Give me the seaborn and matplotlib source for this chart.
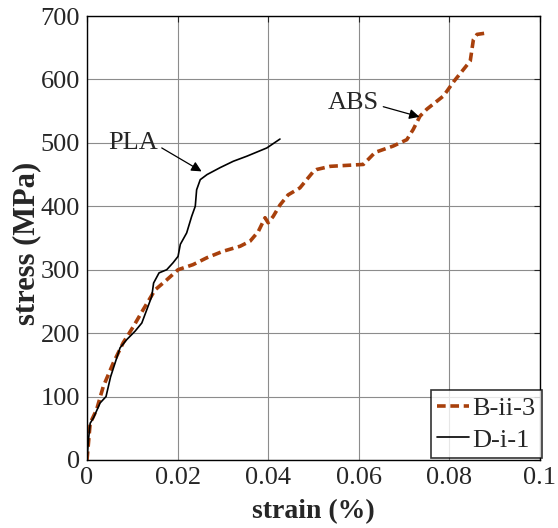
import matplotlib
matplotlib.use("Agg")
import matplotlib.pyplot as plt
import seaborn as sns
import pandas as pd
from matplotlib.lines import Line2D

# ABS specimen B-ii-3
abs_strain = [0.0, 0.0007, 0.0021, 0.0036, 0.0058, 0.008, 0.0102, 0.0124, 0.015, 0.0176,
              0.0201, 0.0234, 0.0265, 0.030, 0.0338, 0.036, 0.0378, 0.0393, 0.040, 0.0411,
              0.0426, 0.0444, 0.047, 0.050, 0.0507, 0.0537, 0.061, 0.0636, 0.0676, 0.0706,
              0.072, 0.0735, 0.075, 0.0787, 0.081, 0.0846, 0.0853, 0.0861, 0.088]
abs_stress = [0, 58, 79, 116, 153, 185, 210, 237, 268, 284,
              300, 308, 319, 329, 337, 345, 360, 382, 374, 384,
              402, 418, 429, 455, 458, 463, 466, 485, 495, 505,
              521, 542, 553, 574, 597, 629, 663, 671, 673]

# PLA specimen D-i-1
pla_strain = [0.0, 0.0003, 0.0007, 0.0014, 0.0029, 0.0042, 0.0052, 0.0062, 0.0073, 0.0088,
              0.0106, 0.0121, 0.0132, 0.0143, 0.0147, 0.0159, 0.0176, 0.019, 0.0201, 0.0206,
              0.022, 0.0231, 0.0239, 0.0242, 0.025, 0.0265, 0.0294, 0.0323, 0.0353, 0.0397,
              0.0426]
pla_stress = [0, 30, 58, 66, 90, 100, 131, 153, 177, 190,
              203, 216, 237, 258, 279, 295, 300, 311, 321, 340,
              358, 384, 400, 426, 442, 450, 461, 471, 479, 492,
              506]

series_names = ["B-ii-3", "D-i-1"]
x_ticks = [0, 0.02, 0.04, 0.06, 0.08, 0.1]
x_tick_labels = ["0", "0.02", "0.04", "0.06", "0.08", "0.1"]
y_ticks = [0, 100, 200, 300, 400, 500, 600, 700]

df = pd.concat([
    pd.DataFrame({"strain": abs_strain, "stress": abs_stress, "specimen": series_names[0]}),
    pd.DataFrame({"strain": pla_strain, "stress": pla_stress, "specimen": series_names[1]}),
], ignore_index=True)

sns.set_style("white")
plt.rcParams["font.family"] = ["Liberation Serif", "DejaVu Serif"]

fig = plt.figure(figsize=(5.58, 5.28), dpi=100)
ax = fig.add_axes([87 / 558, 68 / 528, 453 / 558, 444 / 528])

brown = "#A8400C"
abs_dash = (2.4, 1.3)
sns.lineplot(data=df, x="strain", y="stress", hue="specimen", style="specimen",
             palette={series_names[0]: brown, series_names[1]: "black"},
             dashes={series_names[0]: abs_dash, series_names[1]: ""},
             sort=False, estimator=None, ax=ax, legend=False)
lines = ax.get_lines()
lines[0].set_linewidth(2.6)
lines[1].set_linewidth(1.2)

ax.set_xlim(0, 0.1)
ax.set_ylim(0, 700)
ax.set_xticks(x_ticks)
ax.set_xticklabels(x_tick_labels)
ax.set_yticks(y_ticks)
ax.grid(True, color="#8c8c8c", linewidth=0.8)
ax.tick_params(direction="in", top=True, right=True, labelsize=19, length=4, width=0.8, pad=5)
for s in ax.spines.values():
    s.set_color("black")
    s.set_linewidth(1.0)

ax.set_xlabel("strain (%)", fontsize=20, fontweight="bold", labelpad=7)
ax.set_ylabel("stress (MPa)", fontsize=22, fontweight="bold", labelpad=1)
ax.yaxis.set_label_coords(-0.10, 0.487)

ax.text(0.0102, 500, "PLA", fontsize=19, ha="center", va="center")
ax.annotate("", xy=(0.0253, 455), xytext=(0.0165, 492),
            arrowprops=dict(arrowstyle="-|>", color="black", lw=0.9, mutation_scale=15,
                            shrinkA=0, shrinkB=0))
ax.text(0.0588, 563, "ABS", fontsize=19, ha="center", va="center")
ax.annotate("", xy=(0.0734, 541), xytext=(0.0654, 557),
            arrowprops=dict(arrowstyle="-|>", color="black", lw=0.9, mutation_scale=15,
                            shrinkA=0, shrinkB=0))

handles = [Line2D([0], [0], color=brown, lw=2.6, dashes=abs_dash),
           Line2D([0], [0], color="black", lw=1.2)]
leg = ax.legend(handles, series_names, loc="lower right", bbox_to_anchor=(1.004, 0.004),
                fontsize=19, frameon=True,
                fancybox=False, edgecolor="black", borderpad=0.25, handlelength=1.2,
                handletextpad=0.12, labelspacing=0.3, borderaxespad=0.0)
leg.get_frame().set_linewidth(1.2)

fig.savefig("out.png", dpi=100)
